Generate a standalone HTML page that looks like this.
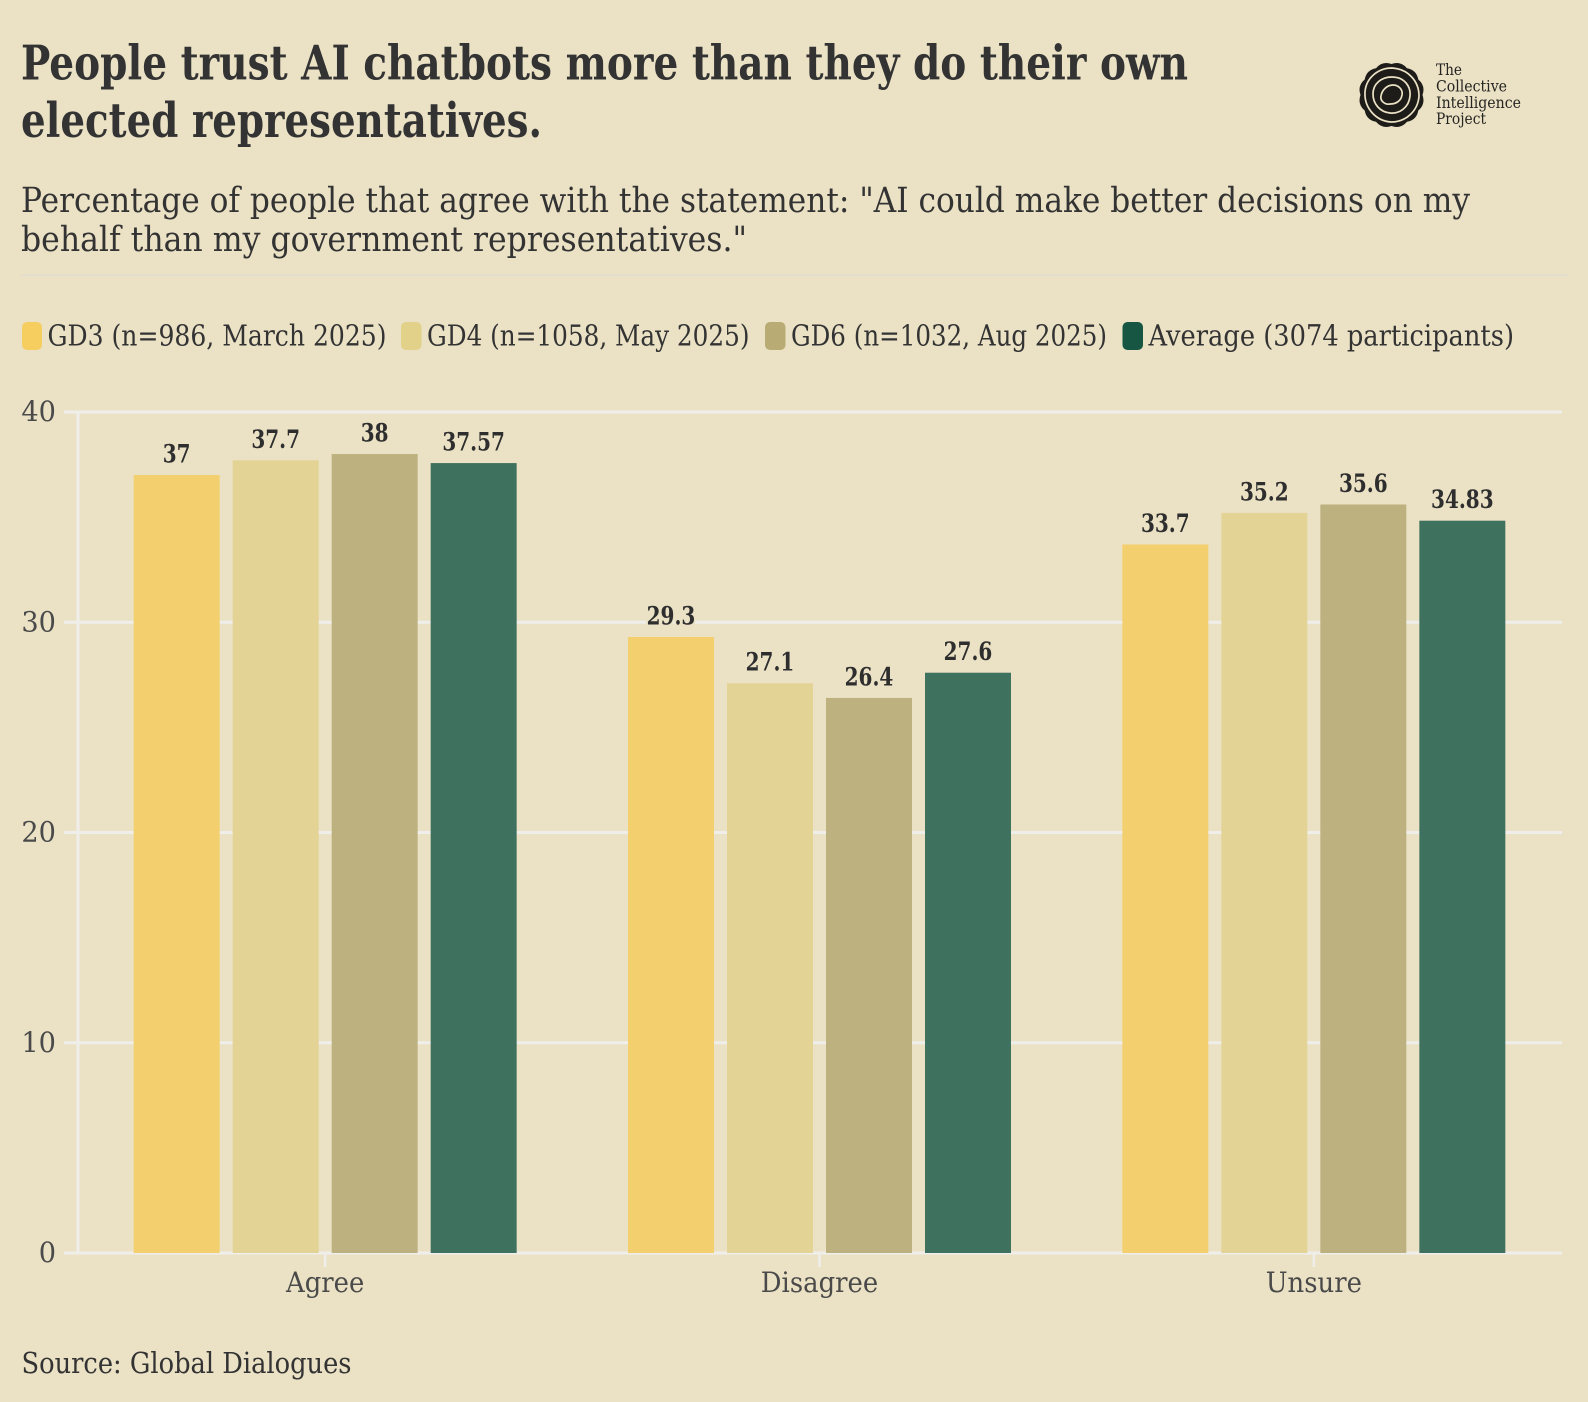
<!DOCTYPE html>
<html lang="en">
<head>
<meta charset="utf-8">
<title>People trust AI chatbots</title>
<style>
html,body{margin:0;padding:0;background:#ebe2c5;}
svg{display:block;font-family:"DejaVu Serif","Liberation Serif",serif;}
</style>
</head>
<body>
<svg id="chart" xmlns="http://www.w3.org/2000/svg" width="1588" height="1402" viewBox="0 0 1588 1402">
  <rect x="0" y="0" width="1588" height="1402" fill="#ebe2c5"/>
  <g fill="#333333" font-weight="700" font-size="48">
    <text x="21" y="79.5" textLength="1167" lengthAdjust="spacingAndGlyphs">People trust AI chatbots more than they do their own</text>
    <text x="21" y="137" textLength="521" lengthAdjust="spacingAndGlyphs">elected representatives.</text>
  </g>
  <g fill="#333333" font-size="35">
    <text x="21" y="212" textLength="1449" lengthAdjust="spacingAndGlyphs">Percentage of people that agree with the statement: "AI could make better decisions on my</text>
    <text x="21" y="251" textLength="726" lengthAdjust="spacingAndGlyphs">behalf than my government representatives."</text>
  </g>
  <rect x="21" y="274" width="1547" height="2" fill="#e2ddcd"/>

  <g>
    <path d="M1422.5 95 Q1425.8 104.2 1418.3 110.5 Q1416.6 120.1 1407 121.8 Q1400.7 129.3 1391.5 126 Q1382.3 129.3 1376 121.8 Q1366.4 120.1 1364.7 110.5 Q1357.2 104.2 1360.5 95 Q1357.2 85.8 1364.7 79.5 Q1366.4 69.9 1376 68.2 Q1382.3 60.7 1391.5 64 Q1400.7 60.7 1407 68.2 Q1416.6 69.9 1418.3 79.5 Q1425.8 85.8 1422.5 95 Z" fill="#1d1c19"/>
    <path d="M1365 92 C1366 78 1378 68 1392 68 C1408 69 1419 81 1419 96 C1418 111 1406 122 1391 122 C1376 121 1364 108 1365 92 Z" fill="none" stroke="#ebe2c5" stroke-width="1.7"/>
    <path d="M1373 94 C1373 84 1381 77 1392 77 C1404 77 1411 86 1410 96 C1409 107 1400 114 1390 113 C1380 112 1373 104 1373 94 Z" fill="none" stroke="#ebe2c5" stroke-width="1.7"/>
    <path d="M1381 96 C1382 90 1387 85 1393 85 C1399 85 1403 90 1402 95 C1401 101 1396 104 1390 104 C1385 105 1380 101 1381 96 Z" fill="none" stroke="#ebe2c5" stroke-width="1.7"/>
    <g fill="#262522" font-size="15.5">
      <text x="1436" y="75" textLength="26" lengthAdjust="spacingAndGlyphs">The</text>
      <text x="1436" y="91.5" textLength="71" lengthAdjust="spacingAndGlyphs">Collective</text>
      <text x="1436" y="108" textLength="85" lengthAdjust="spacingAndGlyphs">Intelligence</text>
      <text x="1436" y="124" textLength="50" lengthAdjust="spacingAndGlyphs">Project</text>
    </g>
  </g>

  <g fill="#333333" font-size="29">
    <g>
      <rect x="22" y="322" width="20" height="28" rx="5" fill="#f6ce60"/>
      <text x="47.5" y="345.5" textLength="339" lengthAdjust="spacingAndGlyphs">GD3 (n=986, March 2025)</text>
    </g>
    <g>
      <rect x="401" y="322" width="20.5" height="28" rx="5" fill="#e1d189"/>
      <text x="427" y="345.5" textLength="322.5" lengthAdjust="spacingAndGlyphs">GD4 (n=1058, May 2025)</text>
    </g>
    <g>
      <rect x="765" y="322" width="20.5" height="28" rx="5" fill="#b8ab74"/>
      <text x="791" y="345.5" textLength="316" lengthAdjust="spacingAndGlyphs">GD6 (n=1032, Aug 2025)</text>
    </g>
    <g>
      <rect x="1122.5" y="322" width="20.5" height="28" rx="5" fill="#175642"/>
      <text x="1148.5" y="345.5" textLength="365.5" lengthAdjust="spacingAndGlyphs">Average (3074 participants)</text>
    </g>
  </g>

  <g id="plot"></g>

  <text x="21.5" y="1373" fill="#333333" font-size="29" textLength="330" lengthAdjust="spacingAndGlyphs">Source: Global Dialogues</text>
</svg>
<script>
const categories = ["Agree", "Disagree", "Unsure"];
const seriesNames = ["GD3", "GD4", "GD6", "Average"];
const gd3Values = [37, 29.3, 33.7];
const gd4Values = [37.7, 27.1, 35.2];
const gd6Values = [38, 26.4, 35.6];
const averageValues = [37.57, 27.6, 34.83];
const yTicks = [0, 10, 20, 30, 40];
const seriesValues = [gd3Values, gd4Values, gd6Values, averageValues];
const barColors = ["#f3cf6e", "#e3d394", "#bdb17f", "#3f715f"];

const NS = "http://www.w3.org/2000/svg";
const plot = document.getElementById("plot");
const plotLeft = 78, plotRight = 1561, plotBottom = 1253, plotTop = 412;
const yMax = 40;
const bandWidth = (plotRight - plotLeft) / categories.length;
const barWidth = 86, barStep = 99;
const labelSquash = 0.8;

function yScale(v) { return plotBottom - (v / yMax) * (plotBottom - plotTop); }
function xCenter(i) { return plotLeft + bandWidth * (i + 0.5); }
function xBar(i, s) { return xCenter(i) - (barStep * seriesValues.length - (barStep - barWidth)) / 2 + s * barStep; }
function make(tag, attrs) {
  const el = document.createElementNS(NS, tag);
  for (const k in attrs) el.setAttribute(k, attrs[k]);
  return el;
}
function squash(el, parent, factor) {
  parent.appendChild(el);
  const w = el.getComputedTextLength();
  el.setAttribute("textLength", (w * factor).toFixed(1));
  el.setAttribute("lengthAdjust", "spacingAndGlyphs");
}
const lineColor = "#efeeea";

yTicks.forEach(function (t) {
  const line = make("rect", { x: 64, y: yScale(t) - 1.5, width: 1562 - 64, height: 3, fill: lineColor });
  
  
  plot.appendChild(line);
  const label = make("text", { x: 56, y: yScale(t) + 9, "text-anchor": "end", "font-size": 28, fill: "#4a4a4a" });
  
  
  label.textContent = String(t);
  squash(label, plot, 0.97);
});

const yAxis = make("rect", { x: 76.5, y: plotTop - 1.5, width: 3, height: plotBottom - plotTop + 3, fill: lineColor });


plot.appendChild(yAxis);

categories.forEach(function (c, i) {
  const tick = make("rect", { x: xCenter(i) - 1.25, y: plotBottom, width: 2.5, height: 14, fill: lineColor });
  
  
  plot.appendChild(tick);
  const label = make("text", { x: xCenter(i), y: 1292, "text-anchor": "middle", "font-size": 28, fill: "#4a4a4a" });
  
  
  label.textContent = c;
  squash(label, plot, 0.925);
});

seriesValues.forEach(function (values, s) {
  values.forEach(function (v, i) {
    const bar = make("rect", { x: xBar(i, s), y: yScale(v), width: barWidth, height: plotBottom - yScale(v), fill: barColors[s] });
    
    
    plot.appendChild(bar);
  });
});

seriesValues.forEach(function (values, s) {
  values.forEach(function (v, i) {
    const label = make("text", {
      x: xBar(i, s) + barWidth / 2, y: yScale(v) - 12.5, "text-anchor": "middle",
      "font-size": 25, "font-weight": 700, fill: "#2e2e2e",
      stroke: "#ebe2c5", "stroke-width": 4, "paint-order": "stroke"
    });
    
    
    label.textContent = String(v);
    squash(label, plot, labelSquash);
  });
});
</script>
</body>
</html>
